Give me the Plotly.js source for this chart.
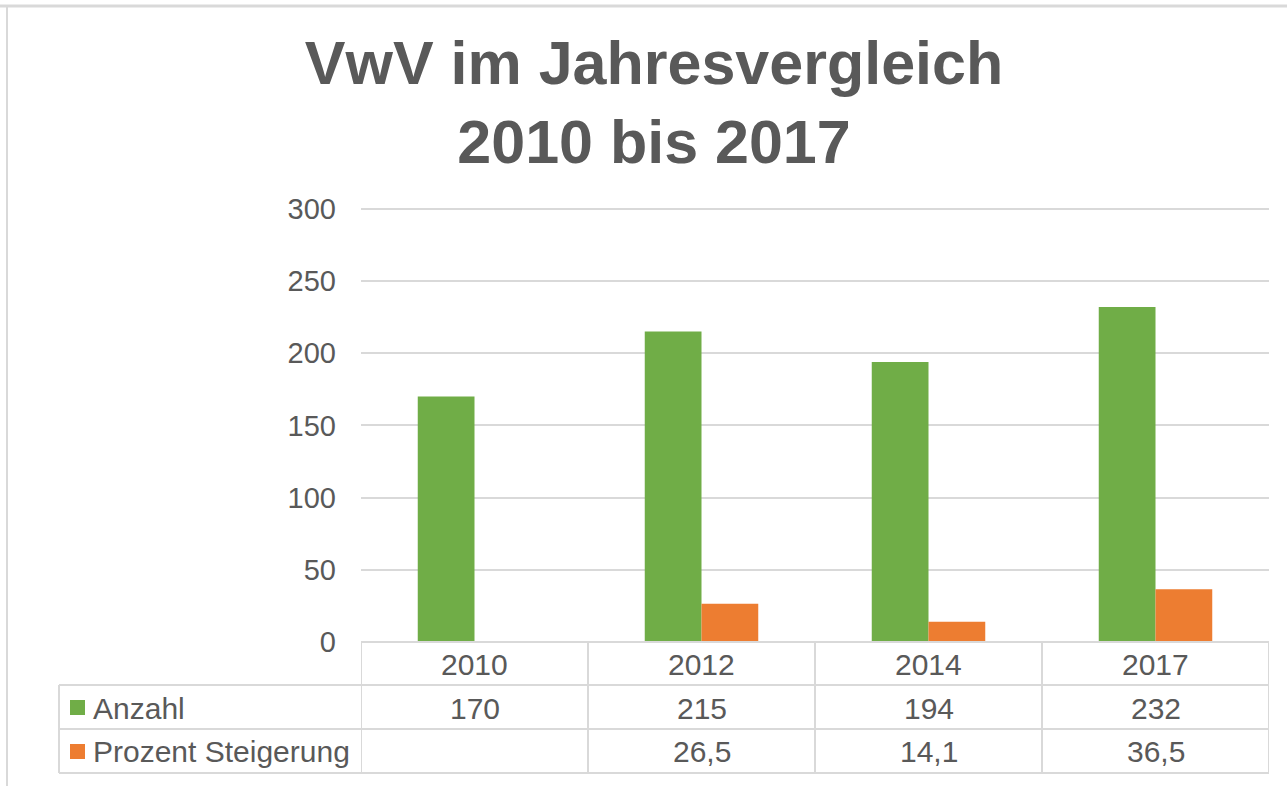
<!DOCTYPE html>
<html>
<head>
<meta charset="utf-8">
<script src="https://cdn.plot.ly/plotly-3.0.1.min.js"></script>
<style>
  html, body { margin: 0; padding: 0; background: #ffffff; }
  #chart { width: 1287px; height: 786px; }
</style>
</head>
<body>
<div id="chart"></div>
<script>
// ---- data ----
const years = ['2010', '2012', '2014', '2017'];
const anzahl = [170, 215, 194, 232];
const prozent = [null, 26.5, 14.1, 36.5];
const seriesNames = ['Anzahl', 'Prozent Steigerung'];
const seriesColors = ['#70AD47', '#ED7D31'];
const yTicks = [0, 50, 100, 150, 200, 250, 300];
const titleText = 'VwV im Jahresvergleich<br>2010 bis 2017';

// ---- layout helpers ----
const W = 1287, H = 786;
const plotLeft = 361, plotRight = 1269, plotTop = 206, plotBottom = 642;
const yMax = 302;                                  // a little headroom so the 300 gridline shows
const plotH = plotBottom - plotTop;
const plotW = plotRight - plotLeft;
const py = Y => (plotBottom - Y) / plotH;          // pixel y -> paper y
const px = X => (X - plotLeft) / plotW;            // pixel x -> paper x
const txtColor = '#595959';
const lineColor = '#D9D9D9';
const font = 'Arial, "Liberation Sans", sans-serif';

const fmt = v => (v === null ? '' : String(v).replace('.', ','));

const traces = [
  { type: 'bar', name: seriesNames[0], x: years, y: anzahl,
    marker: { color: seriesColors[0] }, hoverinfo: 'x+y' },
  { type: 'bar', name: seriesNames[1], x: years, y: prozent,
    marker: { color: seriesColors[1] }, hoverinfo: 'x+y' }
];

// table rows: row separators in pixel y
const rowTop = 642, rowHeader = 685, rowA = 729, rowB = 773;
const tableLeft = 59;

const shapes = [];
// horizontal table lines
shapes.push({ type: 'line', xref: 'x', yref: 'paper', x0: -0.5, x1: years.length - 0.5,
  y0: py(rowTop), y1: py(rowTop), line: { color: lineColor, width: 2 } });
[rowHeader, rowA, rowB].forEach(Y => shapes.push({ type: 'line', xref: 'paper', yref: 'paper',
  x0: px(tableLeft), x1: 1, y0: py(Y), y1: py(Y), line: { color: lineColor, width: 2 } }));
// vertical table lines
for (let i = 0; i <= years.length; i++) {
  shapes.push({ type: 'line', xref: 'x', yref: 'paper', x0: i - 0.5, x1: i - 0.5,
    y0: py(rowTop), y1: py(rowB), line: { color: lineColor, width: 2 } });
}
shapes.push({ type: 'line', xref: 'paper', yref: 'paper', x0: px(tableLeft), x1: px(tableLeft),
  y0: py(rowHeader), y1: py(rowB), line: { color: lineColor, width: 2 } });
// legend keys in table
shapes.push({ type: 'rect', xref: 'paper', yref: 'paper', x0: px(70), x1: px(85),
  y0: py(700), y1: py(715), fillcolor: seriesColors[0], line: { width: 0 } });
shapes.push({ type: 'rect', xref: 'paper', yref: 'paper', x0: px(70), x1: px(85),
  y0: py(744), y1: py(759), fillcolor: seriesColors[1], line: { width: 0 } });
// outer frame (left and top edges of the chart box)
shapes.push({ type: 'line', xref: 'paper', yref: 'paper', x0: px(7), x1: px(7),
  y0: py(6), y1: py(786), line: { color: '#D9D9D9', width: 2 } });
shapes.push({ type: 'line', xref: 'paper', yref: 'paper', x0: px(0), x1: px(1287),
  y0: py(6), y1: py(6), line: { color: '#D9D9D9', width: 3 } });

const annotations = [];
const tfont = { family: font, size: 30, color: txtColor };
years.forEach((yr, i) => {
  // category axes take the category index for annotation positions
  annotations.push({ xref: 'x', yref: 'paper', x: i, y: py(664), text: yr,
    showarrow: false, font: tfont, xanchor: 'center', yanchor: 'middle' });
  annotations.push({ xref: 'x', yref: 'paper', x: i, y: py(708), text: fmt(anzahl[i]),
    showarrow: false, font: tfont, xanchor: 'center', yanchor: 'middle' });
  annotations.push({ xref: 'x', yref: 'paper', x: i, y: py(751), text: fmt(prozent[i]),
    showarrow: false, font: tfont, xanchor: 'center', yanchor: 'middle' });
});
annotations.push({ xref: 'paper', yref: 'paper', x: px(91), y: py(708), text: seriesNames[0],
  showarrow: false, font: tfont, xanchor: 'left', yanchor: 'middle' });
annotations.push({ xref: 'paper', yref: 'paper', x: px(91), y: py(751), text: seriesNames[1],
  showarrow: false, font: tfont, xanchor: 'left', yanchor: 'middle' });

const layout = {
  width: W, height: H,
  margin: { l: plotLeft, r: W - plotRight, t: plotTop, b: H - plotBottom, pad: 0 },
  paper_bgcolor: '#ffffff', plot_bgcolor: '#ffffff',
  title: {
    text: titleText,
    font: { family: font, size: 61, color: txtColor, weight: 'bold' },
    x: 654 / W, xref: 'container', xanchor: 'center',
    y: 1 - 84 / H, yref: 'container', yanchor: 'top'
  },
  showlegend: false,
  barmode: 'group',
  bargap: 0.5,
  bargroupgap: 0,
  xaxis: {
    type: 'category', range: [-0.5, years.length - 0.5],
    showticklabels: false, showgrid: false, zeroline: false, showline: false, ticks: ''
  },
  yaxis: {
    range: [0, yMax], tickvals: yTicks, ticktext: yTicks.map(String),
    showgrid: true, gridcolor: lineColor, gridwidth: 2,
    zeroline: false, showline: false, ticks: '',
    tickfont: { family: font, size: 29, color: txtColor },
    ticklabelstandoff: 24
  },
  shapes: shapes,
  annotations: annotations,
  hovermode: 'closest'
};

Plotly.newPlot('chart', traces, layout, { displayModeBar: false, staticPlot: false });
</script>
</body>
</html>
